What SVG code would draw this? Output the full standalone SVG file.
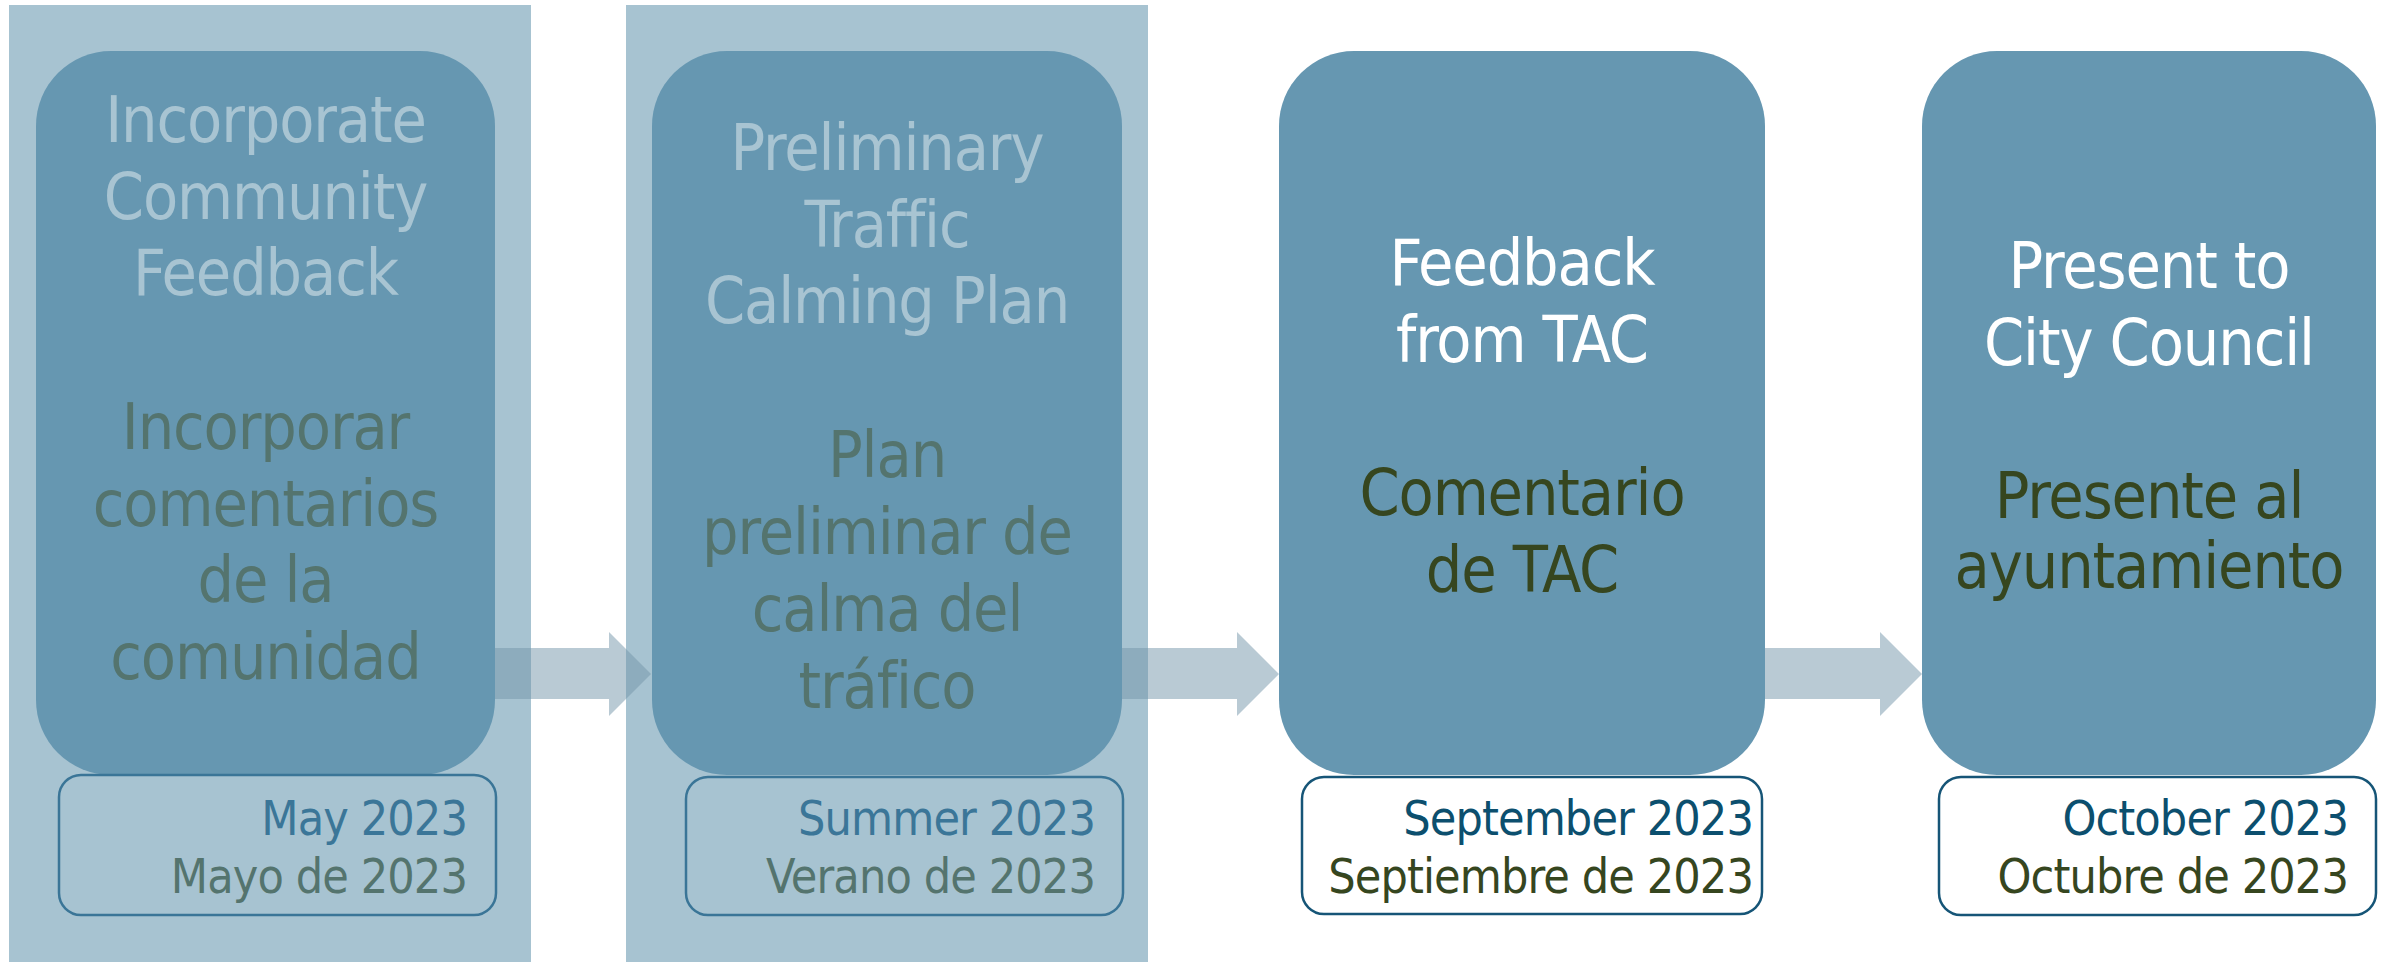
<svg xmlns="http://www.w3.org/2000/svg" width="2390" height="962" viewBox="0 0 2390 962">
<style>
text{font-family:"DejaVu Sans Condensed","DejaVu Sans",sans-serif;font-stretch:condensed;}
.panel{fill:#A7C3D1;}
.box{fill:#6697B1;}
.main{font-size:64px;text-anchor:middle;letter-spacing:-1.1px;}
.date{font-size:48px;text-anchor:end;letter-spacing:-0.9px;}
.fTitle{fill:#A8C4D2;}
.fEs{fill:#54746E;}
.fDateEn{fill:#3B7698;}
.fBox{fill:none;stroke:#3A7597;stroke-width:2.5;}
.aTitle{fill:#FFFFFF;}
.aEs{fill:#36461F;}
.aDateEn{fill:#0C4F6E;}
.aBox{fill:#FFFFFF;stroke:#165577;stroke-width:2.5;}
.arrow{fill:#7395A9;fill-opacity:0.5;}
</style>
<rect width="2390" height="962" fill="#FFFFFF"/>
<g id="highlights">
<rect class="panel" x="9" y="5" width="522" height="957"/>
<rect class="panel" x="626" y="5" width="522" height="957"/>
</g>
<g id="connectors">
<polygon class="arrow" points="495,648 609,648 609,632 651,674 609,716 609,699 495,699"/>
<polygon class="arrow" points="1122,648 1237,648 1237,632 1279,674 1237,716 1237,699 1122,699"/>
<polygon class="arrow" points="1765,648 1880,648 1880,632 1922,674 1880,716 1880,699 1765,699"/>
</g>
<g id="step1">
<rect class="box" x="36" y="51" width="459" height="724" rx="75" ry="75"/>
<text class="main fTitle" x="265.5" y="142">Incorporate</text>
<text class="main fTitle" x="265.5" y="218.7">Community</text>
<text class="main fTitle" x="265.5" y="295.4">Feedback</text>
<text class="main fEs" x="265.5" y="448.8">Incorporar</text>
<text class="main fEs" x="265.5" y="525.5">comentarios</text>
<text class="main fEs" x="265.5" y="602.2">de la</text>
<text class="main fEs" x="265.5" y="679">comunidad</text>
<rect class="fBox" x="59" y="775" width="437" height="140" rx="22" ry="22"/>
<text class="date fDateEn" x="467" y="835">May 2023</text>
<text class="date fEs" x="467" y="893">Mayo de 2023</text>
</g>
<g id="step2">
<rect class="box" x="652" y="51" width="470" height="724" rx="75" ry="75"/>
<text class="main fTitle" x="887" y="170">Preliminary</text>
<text class="main fTitle" x="887" y="247">Traffic</text>
<text class="main fTitle" x="887" y="323">Calming Plan</text>
<text class="main fEs" x="887" y="477">Plan</text>
<text class="main fEs" x="887" y="554">preliminar de</text>
<text class="main fEs" x="887" y="631">calma del</text>
<text class="main fEs" x="887" y="708">tráfico</text>
<rect class="fBox" x="686" y="777" width="437" height="138" rx="22" ry="22"/>
<text class="date fDateEn" x="1095" y="835">Summer 2023</text>
<text class="date fEs" x="1095" y="893">Verano de 2023</text>
</g>
<g id="step3">
<rect class="box" x="1279" y="51" width="486" height="724" rx="75" ry="75"/>
<text class="main aTitle" x="1522" y="285">Feedback</text>
<text class="main aTitle" x="1522" y="362">from TAC</text>
<text class="main aEs" x="1522" y="515">Comentario</text>
<text class="main aEs" x="1522" y="592">de TAC</text>
<rect class="aBox" x="1302" y="777" width="460" height="137" rx="22" ry="22"/>
<text class="date aDateEn" x="1753" y="835">September 2023</text>
<text class="date aEs" x="1753" y="893">Septiembre de 2023</text>
</g>
<g id="step4">
<rect class="box" x="1922" y="51" width="454" height="724" rx="75" ry="75"/>
<text class="main aTitle" x="2149" y="288">Present to</text>
<text class="main aTitle" x="2149" y="365">City Council</text>
<text class="main aEs" x="2149" y="518">Presente al</text>
<text class="main aEs" x="2149" y="588">ayuntamiento</text>
<rect class="aBox" x="1939" y="777" width="437" height="138" rx="22" ry="22"/>
<text class="date aDateEn" x="2348" y="835">October 2023</text>
<text class="date aEs" x="2348" y="893">Octubre de 2023</text>
</g>
</svg>
